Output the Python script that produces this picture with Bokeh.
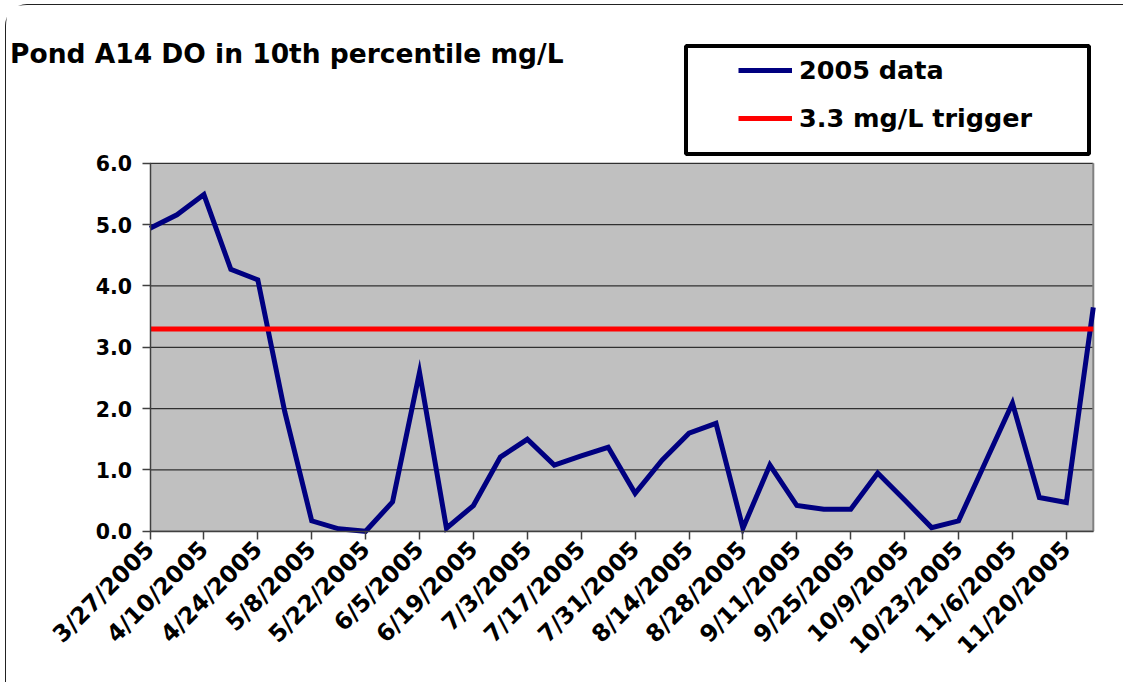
from bokeh.plotting import figure
from bokeh.models import (ColumnDataSource, FixedTicker, NumeralTickFormatter, Label,
                          Legend, LegendItem, BoxAnnotation, Range1d)
from bokeh.embed import file_html
from bokeh.resources import INLINE

# ---------------- data ----------------
dates = ["3/27/2005", "4/3/2005", "4/10/2005", "4/17/2005", "4/24/2005", "5/1/2005",
         "5/8/2005", "5/15/2005", "5/22/2005", "5/29/2005", "6/5/2005", "6/12/2005",
         "6/19/2005", "6/26/2005", "7/3/2005", "7/10/2005", "7/17/2005", "7/24/2005",
         "7/31/2005", "8/7/2005", "8/14/2005", "8/21/2005", "8/28/2005", "9/4/2005",
         "9/11/2005", "9/18/2005", "9/25/2005", "10/2/2005", "10/9/2005", "10/16/2005",
         "10/23/2005", "10/30/2005", "11/6/2005", "11/13/2005", "11/20/2005", "11/27/2005"]
do_values = [4.94, 5.16, 5.49, 4.27, 4.10, 1.95, 0.17, 0.04, 0.00, 0.48, 2.59, 0.05,
             0.42, 1.21, 1.50, 1.08, 1.23, 1.37, 0.62, 1.16, 1.60, 1.76, 0.05, 1.08,
             0.42, 0.36, 0.36, 0.95, 0.51, 0.06, 0.17, 1.13, 2.09, 0.55, 0.47, 3.65]
trigger = 3.3
y_ticks = [0, 1, 2, 3, 4, 5, 6]
series_name = "2005 data"
trigger_name = "3.3 mg/L trigger"
title_text = "Pond A14 DO in 10th percentile mg/L"

idx = list(range(len(dates)))
tick_pos = idx[::2]

# ---------------- layout (pixels) ----------------
FONT = "DejaVu Sans"
W, H = 1118, 678
ORG_X, ORG_Y = 6.5, 5.5            # page position of the canvas
PA_L, PA_R, PA_T, PA_B = 150.0, 1093.3, 163.3, 531.3   # plot area on page

ppx = (PA_R - PA_L) / (idx[-1] - idx[0])
ppy = (PA_B - PA_T) / (y_ticks[-1] - y_ticks[0])
x_start = idx[0] - (PA_L - ORG_X) / ppx
x_end = idx[-1] + (ORG_X + W - PA_R) / ppx
y_start = y_ticks[0] - (ORG_Y + H - PA_B) / ppy
y_end = y_ticks[-1] + (PA_T - ORG_Y) / ppy

def sx(page_x):
    return page_x - ORG_X

def sy(page_y):
    return ORG_Y + H - page_y

p = figure(width=W, height=H,
           x_range=Range1d(x_start, x_end), y_range=Range1d(y_start, y_end),
           output_backend="svg", toolbar_location=None, min_border=0,
           min_border_left=0, min_border_right=0, min_border_top=0, min_border_bottom=0,
           background_fill_color="white", border_fill_color="white")
p.outline_line_color = None
p.styles = {"border-left": "1.5px solid #222222", "border-top": "1.5px solid #222222",
            "border-top-left-radius": "22px", "margin-left": "5px", "margin-top": "4px"}

# plot area
p.quad(left=idx[0], right=idx[-1], bottom=y_ticks[0], top=y_ticks[-1],
       fill_color="#C0C0C0", line_color=None)
p.segment(x0=[idx[0]] * len(y_ticks), x1=[idx[-1]] * len(y_ticks), y0=y_ticks, y1=y_ticks,
          line_color="#303030", line_width=1.3)
p.segment(x0=[idx[-1]], x1=[idx[-1]], y0=[y_ticks[0]], y1=[y_ticks[-1]],
          line_color="#808080", line_width=2)

src = ColumnDataSource(dict(x=idx, y=do_values))
r1 = p.line("x", "y", source=src, line_color="#000080", line_width=5, line_join="miter")
r2 = p.line(x=[idx[0], idx[-1]], y=[trigger, trigger], line_color="#FF0000", line_width=5)

p.xgrid.visible = False
p.ygrid.visible = False

for ax in (p.xaxis[0], p.yaxis[0]):
    ax.axis_line_color = "#404040"
    ax.axis_line_width = 1.5
    ax.major_tick_line_color = "#404040"
    ax.major_tick_line_width = 1.5
    ax.major_tick_out = 8
    ax.major_tick_in = 0
    ax.minor_tick_line_color = None
    ax.major_label_text_font = FONT
    ax.major_label_text_font_style = "bold"
    ax.major_label_text_color = "black"

p.yaxis.fixed_location = idx[0]
p.yaxis.bounds = (y_ticks[0], y_ticks[-1])
p.yaxis.ticker = FixedTicker(ticks=y_ticks)
p.yaxis.formatter = NumeralTickFormatter(format="0.0")
p.yaxis.major_label_text_font_size = "20.5px"
p.yaxis.major_label_standoff = 10

p.xaxis.fixed_location = y_ticks[0]
p.xaxis.bounds = (idx[0], idx[-1])
p.xaxis.ticker = FixedTicker(ticks=tick_pos)
p.xaxis.major_label_overrides = {i: dates[i] for i in tick_pos}
p.xaxis.major_label_orientation = 0.785398
p.xaxis.major_label_text_font_size = "23.5px"
p.xaxis.major_label_standoff = 6

# title
p.add_layout(Label(x=sx(10), y=sy(53.6), x_units="screen", y_units="screen", text=title_text,
                   text_font=FONT, text_font_style="bold", text_font_size="26.5px",
                   text_color="black", text_baseline="alphabetic"))

# legend box
p.add_layout(BoxAnnotation(left=sx(686), right=sx(1089), bottom=sy(154), top=sy(46),
                           left_units="screen", right_units="screen",
                           top_units="screen", bottom_units="screen",
                           fill_color="white", fill_alpha=1.0,
                           line_color="black", line_width=4, line_alpha=1.0))

legend = Legend(items=[LegendItem(label=series_name, renderers=[r1]),
                       LegendItem(label=trigger_name, renderers=[r2])],
                location=(int(round(sx(738))), int(round(sy(133.5)))), padding=0, margin=0,
                glyph_width=54, glyph_height=30, label_height=30, spacing=18,
                label_standoff=7, border_line_alpha=0, background_fill_alpha=0,
                label_text_font=FONT, label_text_font_style="bold",
                label_text_font_size="25.5px", label_text_color="black")
p.add_layout(legend)

open("out.html", "w").write(file_html(p, INLINE))
